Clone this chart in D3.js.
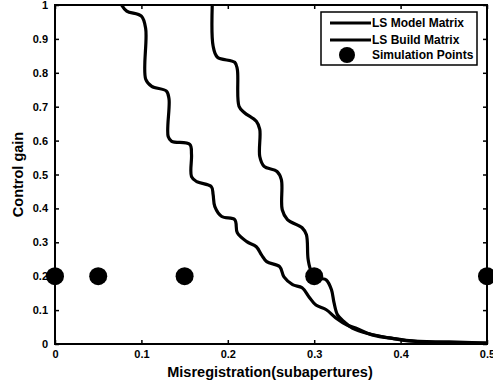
<!DOCTYPE html>
<html>
<head>
<meta charset="utf-8">
<script src="https://cdn.jsdelivr.net/npm/d3@7"></script>
<style>
  body { margin: 0; background: #fff; }
  svg text { font-family: "Liberation Sans", Arial, sans-serif; font-weight: bold; fill: #000; }
</style>
</head>
<body>
<div id="app"></div>
<script>
// tick labels
const xTicks = [0, 0.1, 0.2, 0.3, 0.4, 0.5];
const yTicks = [0, 0.1, 0.2, 0.3, 0.4, 0.5, 0.6, 0.7, 0.8, 0.9, 1];

// LS Model Matrix (left curve)
const modelX = [0.077, 0.083, 0.100, 0.105, 0.105, 0.112, 0.129, 0.132, 0.131, 0.135, 0.156, 0.158, 0.158,
  0.164, 0.181, 0.183, 0.185, 0.193, 0.208, 0.211, 0.222, 0.233, 0.239, 0.245, 0.260, 0.265, 0.275,
  0.286, 0.294, 0.302, 0.314, 0.325, 0.338, 0.348, 0.367, 0.395, 0.425, 0.5];
const modelY = [1.0, 0.982, 0.967, 0.929, 0.781, 0.760, 0.746, 0.722, 0.612, 0.598, 0.589, 0.559, 0.494,
  0.479, 0.464, 0.441, 0.405, 0.376, 0.367, 0.328, 0.302, 0.287, 0.263, 0.243, 0.228, 0.198, 0.175,
  0.166, 0.139, 0.115, 0.101, 0.077, 0.056, 0.047, 0.027, 0.015, 0.006, 0.003];

// LS Build Matrix (right curve)
const buildX = [0.182, 0.183, 0.188, 0.208, 0.211, 0.213, 0.219, 0.233, 0.237, 0.237, 0.242, 0.257, 0.262,
  0.263, 0.269, 0.286, 0.291, 0.293, 0.297, 0.306, 0.314, 0.320, 0.323, 0.327, 0.335, 0.344, 0.363,
  0.387, 0.410, 0.456, 0.5];
const buildY = [1.0, 0.879, 0.846, 0.831, 0.811, 0.701, 0.683, 0.657, 0.633, 0.553, 0.524, 0.509, 0.485,
  0.396, 0.367, 0.343, 0.322, 0.249, 0.213, 0.195, 0.189, 0.160, 0.121, 0.086, 0.065, 0.047, 0.030,
  0.018, 0.009, 0.006, 0.003];

// Simulation Points
const simX = [0, 0.05, 0.15, 0.3, 0.5];
const simY = [0.2, 0.2, 0.2, 0.2, 0.2];

const legendLabels = ["LS Model Matrix", "LS Build Matrix", "Simulation Points"];

const W = 493, H = 388;
const margin = {top: 5, right: 6, bottom: 44, left: 55};
const width = W - margin.left - margin.right,
      height = H - margin.top - margin.bottom;

const svg = d3.select("#app").append("svg")
  .attr("width", W).attr("height", H);

const g = svg.append("g")
  .attr("transform", "translate(" + margin.left + "," + margin.top + ")");

const x = d3.scaleLinear().domain([0, 0.5]).range([0, width]);
const y = d3.scaleLinear().domain([0, 1]).range([height, 0]);

const fmt = d => (d === 0 || d === 1) ? String(d) : d.toFixed(1);

g.append("clipPath").attr("id", "clip")
  .append("rect").attr("width", width).attr("height", height);

// axes (ticks inward, on all four sides)
const styleAxis = sel => {
  sel.select(".domain").remove();
  sel.selectAll(".tick line").attr("stroke", "#000").attr("stroke-width", 1.5);
  sel.selectAll("text").style("font-size", "11px");
};

g.append("g").attr("transform", "translate(0," + height + ")")
  .call(d3.axisBottom(x).tickValues(xTicks).tickFormat(fmt).tickSize(-4).tickPadding(6))
  .call(styleAxis);
g.append("g")
  .call(d3.axisTop(x).tickValues(xTicks).tickFormat("").tickSize(-4))
  .call(styleAxis);
g.append("g")
  .call(d3.axisLeft(y).tickValues(yTicks).tickFormat(fmt).tickSize(-4).tickPadding(7))
  .call(styleAxis);
g.append("g").attr("transform", "translate(" + width + ",0)")
  .call(d3.axisRight(y).tickValues(yTicks).tickFormat("").tickSize(-4))
  .call(styleAxis);

g.append("rect")
  .attr("width", width).attr("height", height)
  .attr("fill", "none").attr("stroke", "#000").attr("stroke-width", 2);

// curves
const line = d3.line()
  .x(d => x(d[0])).y(d => y(d[1]))
  .curve(d3.curveCatmullRom.alpha(0.5));

const curves = [d3.zip(modelX, modelY), d3.zip(buildX, buildY)];

g.append("g").attr("clip-path", "url(#clip)")
  .selectAll("path").data(curves).enter().append("path")
  .attr("d", line)
  .attr("fill", "none")
  .attr("stroke", "#000")
  .attr("stroke-width", 3.2)
  .attr("stroke-linejoin", "round");

// simulation points
g.selectAll(".sim").data(d3.zip(simX, simY)).enter().append("circle")
  .attr("class", "sim")
  .attr("cx", d => x(d[0])).attr("cy", d => y(d[1]))
  .attr("r", 9).attr("fill", "#000");

// axis labels
svg.append("text")
  .attr("x", margin.left + width / 2 - 1).attr("y", 377)
  .attr("text-anchor", "middle")
  .style("font-size", "14.5px")
  .text("Misregistration(subapertures)");

svg.append("text")
  .attr("transform", "translate(23," + (margin.top + height / 2) + ") rotate(-90)")
  .attr("text-anchor", "middle")
  .style("font-size", "14.5px")
  .text("Control gain");

// legend
const lg = svg.append("g").attr("transform", "translate(321,12)");
lg.append("rect").attr("width", 156).attr("height", 53)
  .attr("fill", "#fff").attr("stroke", "#000").attr("stroke-width", 1.5);

[11, 28].forEach((yy, i) => {
  lg.append("line").attr("x1", 9).attr("x2", 50).attr("y1", yy).attr("y2", yy)
    .attr("stroke", "#000").attr("stroke-width", 3);
  lg.append("text").attr("x", 51).attr("y", yy + 4)
    .style("font-size", "12px").text(legendLabels[i]);
});
lg.append("circle").attr("cx", 26).attr("cy", 43).attr("r", 8).attr("fill", "#000");
lg.append("text").attr("x", 51).attr("y", 47)
  .style("font-size", "12px").text(legendLabels[2]);
</script>
</body>
</html>
